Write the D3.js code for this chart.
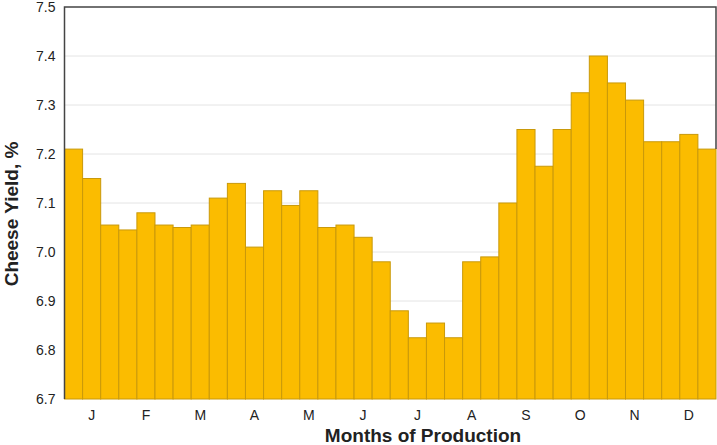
<!DOCTYPE html>
<html>
<head>
<meta charset="utf-8">
<script src="https://cdn.jsdelivr.net/npm/d3@7"></script>
<style>
  body { margin: 0; background: #fff; }
  text { font-family: "Liberation Sans", Arial, sans-serif; }
</style>
</head>
<body>
<div class="canva"></div>
<script>
// Data
const months = ['J', 'F', 'M', 'A', 'M', 'J', 'J', 'A', 'S', 'O', 'N', 'D'];
const yieldValues = [
  7.21, 7.15, 7.055,
  7.045, 7.08, 7.055,
  7.05, 7.055, 7.11,
  7.14, 7.01, 7.125,
  7.095, 7.125, 7.05,
  7.055, 7.03, 6.98,
  6.88, 6.825, 6.855,
  6.825, 6.98, 6.99,
  7.1, 7.25, 7.175,
  7.25, 7.325, 7.4,
  7.345, 7.31, 7.225,
  7.225, 7.24, 7.21
];
const yTicks = [6.7, 6.8, 6.9, 7.0, 7.1, 7.2, 7.3, 7.4, 7.5];

const width = 717, height = 445;
const margin = { top: 7, right: 1, bottom: 46, left: 64.5 };
const plotW = width - margin.left - margin.right;
const plotH = height - margin.top - margin.bottom;

const svg = d3.select('.canva').append('svg')
  .attr('width', width)
  .attr('height', height);

const g = svg.append('g')
  .attr('transform', `translate(${margin.left},${margin.top})`);

const x = d3.scaleBand()
  .domain(d3.range(yieldValues.length))
  .range([0, plotW])
  .padding(0);

const xMonth = d3.scaleBand()
  .domain(d3.range(months.length))
  .range([0, plotW]);

const y = d3.scaleLinear()
  .domain([6.7, 7.5])
  .range([plotH, 0]);

// gridlines
g.selectAll('.grid')
  .data(yTicks.slice(1, -1))
  .enter()
  .append('line')
  .attr('x1', 0)
  .attr('x2', plotW)
  .attr('y1', d => y(d))
  .attr('y2', d => y(d))
  .attr('stroke', '#e4e4e4')
  .attr('stroke-width', 1);

// bars
g.selectAll('rect.bar')
  .data(yieldValues)
  .enter()
  .append('rect')
  .attr('class', 'bar')
  .attr('x', (d, i) => x(i))
  .attr('y', d => y(d))
  .attr('width', x.bandwidth())
  .attr('height', d => plotH - y(d))
  .attr('fill', '#fbbc00')
  .attr('stroke', '#c9990a')
  .attr('stroke-width', 1);

// frame: left, top, right
g.append('path')
  .attr('d', `M0,${plotH} V0 H${plotW} V${y(yieldValues[yieldValues.length - 1])}`)
  .attr('fill', 'none')
  .attr('stroke', '#444')
  .attr('stroke-width', 1.5);

// y tick labels
g.selectAll('.ylab')
  .data(yTicks)
  .enter()
  .append('text')
  .attr('x', -9)
  .attr('y', d => y(d))
  .attr('dy', '0.35em')
  .attr('text-anchor', 'end')
  .attr('font-size', 14)
  .attr('fill', '#222')
  .text(d => d.toFixed(1));

// x month labels
g.selectAll('.xlab')
  .data(months)
  .enter()
  .append('text')
  .attr('x', (d, i) => xMonth(i) + xMonth.bandwidth() / 2)
  .attr('y', plotH + 21)
  .attr('text-anchor', 'middle')
  .attr('font-size', 14)
  .attr('fill', '#222')
  .text(d => d);

// axis titles
svg.append('text')
  .attr('x', 423)
  .attr('y', height - 3)
  .attr('text-anchor', 'middle')
  .attr('font-size', 19)
  .attr('font-weight', 'bold')
  .attr('fill', '#222')
  .text('Months of Production');

svg.append('text')
  .attr('transform', `translate(18,214) rotate(-90)`)
  .attr('text-anchor', 'middle')
  .attr('font-size', 19)
  .attr('font-weight', 'bold')
  .attr('fill', '#222')
  .text('Cheese Yield, %');
</script>
</body>
</html>
